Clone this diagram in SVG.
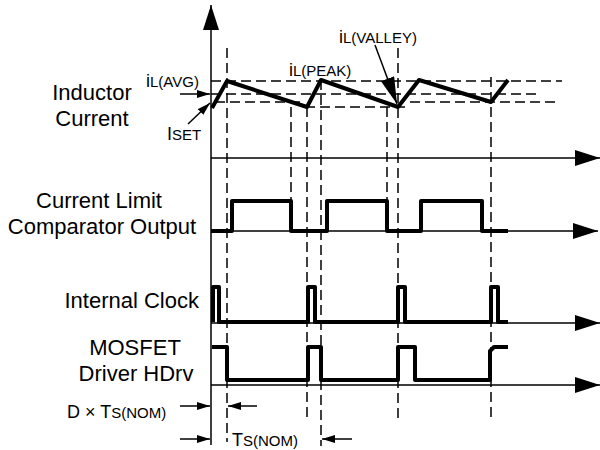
<svg xmlns="http://www.w3.org/2000/svg" width="600" height="450" viewBox="0 0 600 450">
<style>
text{font-family:"Liberation Sans",Arial,sans-serif;fill:#000}
.lbl{font-size:22px}
.big{font-size:18px}
.sub{font-size:15px}
.ax{stroke:#000;stroke-width:1.5;fill:none}
.dash{stroke:#000;stroke-width:1.5;fill:none;stroke-dasharray:10 5}
.wave{stroke:#000;stroke-width:4;fill:none;stroke-linejoin:round;stroke-linecap:butt}
.ptr{stroke:#000;stroke-width:1.5;fill:none}
</style>
<defs>
<marker id="ah" viewBox="0 0 25 16" refX="25" refY="8" markerWidth="25" markerHeight="16" markerUnits="userSpaceOnUse" orient="auto"><path d="M0,0 L25,8 L0,16 z" fill="#000"/></marker>
<marker id="as" viewBox="0 0 13 8" refX="13" refY="4" markerWidth="13" markerHeight="8" markerUnits="userSpaceOnUse" orient="auto"><path d="M0,0 L13,4 L0,8 z" fill="#000"/></marker>
<marker id="av" viewBox="0 0 27 14" refX="27" refY="7" markerWidth="27" markerHeight="14" markerUnits="userSpaceOnUse" orient="auto"><path d="M0,0 L27,7 L0,14 z" fill="#000"/></marker>
</defs>

<g id="axes">
<line class="ax" x1="211" y1="445" x2="211" y2="5" marker-end="url(#ah)"/>
<line class="ax" x1="211" y1="158" x2="600" y2="158" marker-end="url(#ah)"/>
<line class="ax" x1="211" y1="231" x2="598" y2="231" marker-end="url(#ah)"/>
<line class="ax" x1="211" y1="323" x2="600" y2="323" marker-end="url(#ah)"/>
<line class="ax" x1="211" y1="385" x2="600" y2="385" marker-end="url(#ah)"/>
</g>

<g id="guides">
<line class="dash" x1="227" y1="48" x2="227" y2="442"/>
<line class="dash" x1="291" y1="107" x2="291" y2="200"/>
<line class="dash" x1="307" y1="107" x2="307" y2="418"/>
<line class="dash" x1="321" y1="80" x2="321" y2="446"/>
<line class="dash" x1="387" y1="107" x2="387" y2="200"/>
<line class="dash" x1="398" y1="48" x2="398" y2="418"/>
<line class="dash" x1="491" y1="77" x2="491" y2="418"/>
<line class="dash" x1="211" y1="81" x2="562" y2="81"/>
<line class="dash" x1="211" y1="94" x2="540" y2="94"/>
<line class="dash" x1="215" y1="102" x2="305" y2="102"/>
<line class="dash" x1="305" y1="107" x2="410" y2="107"/>
<line class="dash" x1="410" y1="102" x2="557" y2="102"/>
</g>

<g id="inductor-current">
<text class="lbl" x="92" y="100" text-anchor="middle">Inductor</text>
<text class="lbl" x="92" y="126" text-anchor="middle">Current</text>
<polyline class="wave" stroke-width="4.5" points="212,108 227,81 307,107 321,80 398,107 419,80 491,102 508,80"/>
</g>

<g id="label-il-avg"><text x="146" y="87"><tspan class="big">i</tspan><tspan class="sub">L(AVG)</tspan></text></g>
<g id="label-iset"><text x="167" y="140"><tspan class="big">I</tspan><tspan class="sub">SET</tspan></text></g>
<g id="label-il-peak"><text x="289" y="76"><tspan class="big">i</tspan><tspan class="sub">L(PEAK)</tspan></text></g>
<g id="label-il-valley"><text x="339" y="43"><tspan class="big">i</tspan><tspan class="sub">L(VALLEY)</tspan></text></g>

<g id="comparator">
<text class="lbl" x="99" y="208" text-anchor="middle">Current Limit</text>
<text class="lbl" x="102" y="234" text-anchor="middle">Comparator Output</text>
<polyline class="wave" points="211,231 232,231 232,201 291,201 291,231 327,231 327,201 387,201 387,231 421,231 421,201 482,201 482,231 508,231"/>
</g>

<g id="clock">
<text class="lbl" x="199" y="308" text-anchor="end">Internal Clock</text>
<polyline class="wave" points="213,322 213,287 219,287 219,322 308,322 308,287 315,287 315,322 398,322 398,287 405,287 405,322 491,322 491,287 498,287 498,322 508,322"/>
</g>

<g id="mosfet">
<text class="lbl" x="135" y="355" text-anchor="middle">MOSFET</text>
<text class="lbl" x="136" y="381" text-anchor="middle">Driver HDrv</text>
<polyline class="wave" points="212,347 227,347 227,380 308,380 308,347 321,347 321,380 398,380 398,347 415,347 415,380 490,380 490,351 494,347 508,347"/>
</g>

<g id="label-dts"><text x="67" y="418"><tspan class="big">D × T</tspan><tspan class="sub">S(NOM)</tspan></text></g>
<g id="label-ts"><text x="232" y="446"><tspan class="big">T</tspan><tspan class="sub">S(NOM)</tspan></text></g>

<g id="connectors">
<line class="ptr" x1="180" y1="94" x2="210" y2="94" marker-end="url(#as)"/>
<line class="ptr" x1="188" y1="124" x2="210" y2="103" marker-end="url(#as)"/>
<line class="ptr" x1="375" y1="45" x2="397" y2="104" marker-end="url(#av)"/>
<line class="ptr" x1="180" y1="406" x2="210" y2="406" marker-end="url(#as)"/>
<line class="ptr" x1="257" y1="406" x2="228" y2="406" marker-end="url(#as)"/>
<line class="ptr" x1="180" y1="439" x2="210" y2="439" marker-end="url(#as)"/>
<line class="ptr" x1="352" y1="439" x2="322" y2="439" marker-end="url(#as)"/>
</g>
</svg>
